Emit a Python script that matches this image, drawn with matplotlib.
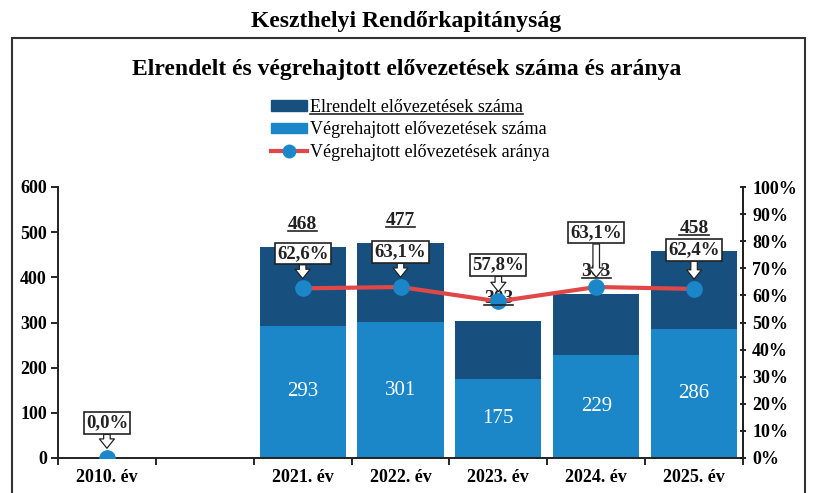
import numpy as np
import matplotlib.pyplot as plt
from matplotlib.patches import Rectangle, Patch
from matplotlib.lines import Line2D

plt.rcParams['font.family'] = ['Liberation Serif', 'DejaVu Serif']
plt.rcParams['font.weight'] = 'bold'

years = ['2010. év', '', '2021. év', '2022. év', '2023. év', '2024. év', '2025. év']
ordered = [0, np.nan, 468, 477, 303, 363, 458]        # elrendelt
executed = [0, np.nan, 293, 301, 175, 229, 286]       # végrehajtott
ratio = [0.0, np.nan, 62.6, 63.1, 57.8, 63.1, 62.4]   # arány %

dark = '#17507f'
light = '#1b87c9'
red = '#e04848'

fig = plt.figure(figsize=(8.13, 4.93), dpi=100)
fig.patch.set_facecolor('white')

# frame around the chart
fig.patches.append(Rectangle((12 / 813, -0.02), 793 / 813, 1 - 38 / 493 + 0.02,
                             transform=fig.transFigure, fill=False, ec='#333333', lw=1.5))
fig.text(0.5, 1 - 22 / 493, 'Keszthelyi Rendőrkapitányság', ha='center', va='center',
         fontsize=17, fontweight='bold')
fig.text(0.5, 1 - 70 / 493, 'Elrendelt és végrehajtott elővezetések száma és aránya',
         ha='center', va='center', fontsize=17, fontweight='bold')

ax = fig.add_axes([58 / 813, 1 - 458 / 493, (743 - 58) / 813, (458 - 187) / 493])
ax.set_facecolor('none')
x = np.arange(len(years))
rest = np.array(ordered) - np.array(executed)
ax.bar(x, executed, width=0.88, color=light, zorder=2)
ax.bar(x, rest, bottom=executed, width=0.88, color=dark, zorder=2)

ax.set_xlim(-0.5, len(years) - 0.5)
ax.set_ylim(0, 600)
ax.set_yticks(range(0, 601, 100))
ax.set_xticks(np.arange(len(years) + 1) - 0.5)
ax.set_xticklabels([])
ax.set_xticks(x, minor=True)
ax.set_xticklabels(years, minor=True)
ax.tick_params(axis='x', which='minor', length=0, pad=8, labelsize=13)
ax.tick_params(axis='x', which='major', length=5, width=1.2, direction='out')
ax.tick_params(axis='y', length=5, width=1.2, labelsize=13, pad=3)
ax.spines['top'].set_visible(False)
for s in ['left', 'bottom', 'right']:
    ax.spines[s].set_linewidth(1.4)
    ax.spines[s].set_color('#222222')

# value labels
for xi, tot, ex in zip(x, ordered, executed):
    if np.isnan(tot) or tot == 0:
        continue
    ax.text(xi, ex / 2, f'{ex}', ha='center', va='center', color='white',
            fontsize=15, fontweight='normal', zorder=4)

tot_texts = []
for xi, tot in zip(x, ordered):
    if np.isnan(tot) or tot == 0:
        continue
    t = ax.annotate(f'{tot}', (xi, tot), xytext=(0, 10), textcoords='offset points',
                    ha='center', va='bottom', fontsize=14, color='#222222', zorder=3)
    tot_texts.append(t)

ax2 = ax.twinx()
ax2.set_ylim(0, 100)
ax2.set_yticks(range(0, 101, 10))
ax2.set_yticklabels([f'{v}%' for v in range(0, 101, 10)])
ax2.tick_params(axis='y', length=5, width=1.2, labelsize=13, direction='inout', pad=4)
for s in ['top', 'left', 'bottom']:
    ax2.spines[s].set_visible(False)
ax2.spines['right'].set_linewidth(1.4)
ax2.spines['right'].set_color('#222222')
ax2.plot(x, ratio, color=red, lw=3, marker='o', ms=11, mfc=light, mec=light, zorder=5)

label_offsets = [19, 0, 19, 19, 20, 33, 22]
for xi, r, off in zip(x, ratio, label_offsets):
    if np.isnan(r):
        continue
    ax2.annotate(f'{r:.1f}%'.replace('.', ','), (xi, r), xytext=(0, off),
                 textcoords='offset points', ha='center', va='bottom', fontsize=13.5,
                 color='#222222', zorder=6,
                 bbox=dict(boxstyle='square,pad=0.12', fc='white', ec='#222222', lw=1.2),
                 arrowprops=dict(arrowstyle='simple,head_width=0.8,head_length=0.5,tail_width=0.35',
                                 fc='white', ec='#222222', lw=0.9, shrinkA=0, shrinkB=7))

handles = [Patch(color=dark), Patch(color=light),
           Line2D([], [], color=red, lw=3, marker='o', ms=9, mfc=light, mec=light)]
labels = ['Elrendelt elővezetések száma', 'Végrehajtott elővezetések száma',
          'Végrehajtott elővezetések aránya']
leg = fig.legend(handles, labels, loc='upper left', bbox_to_anchor=(262 / 813, 1 - 90 / 493),
                 frameon=False, fontsize=13, handlelength=2.0, handleheight=0.5,
                 handletextpad=0.15, labelspacing=0.3, borderpad=0)
for t in leg.get_texts():
    t.set_fontweight('normal')

# underline total labels and first legend entry
fig.canvas.draw()
r = fig.canvas.get_renderer()
inv = fig.transFigure.inverted()
for t in tot_texts + [leg.get_texts()[0]]:
    bb = t.get_window_extent(r)
    (x0, y0), (x1, _) = inv.transform([(bb.x0, bb.y0 + 2), (bb.x1, bb.y0 + 2)])
    fig.add_artist(Line2D([x0, x1], [y0, y0], transform=fig.transFigure, color='#222222', lw=1.2))

fig.savefig('out.png', dpi=100)
